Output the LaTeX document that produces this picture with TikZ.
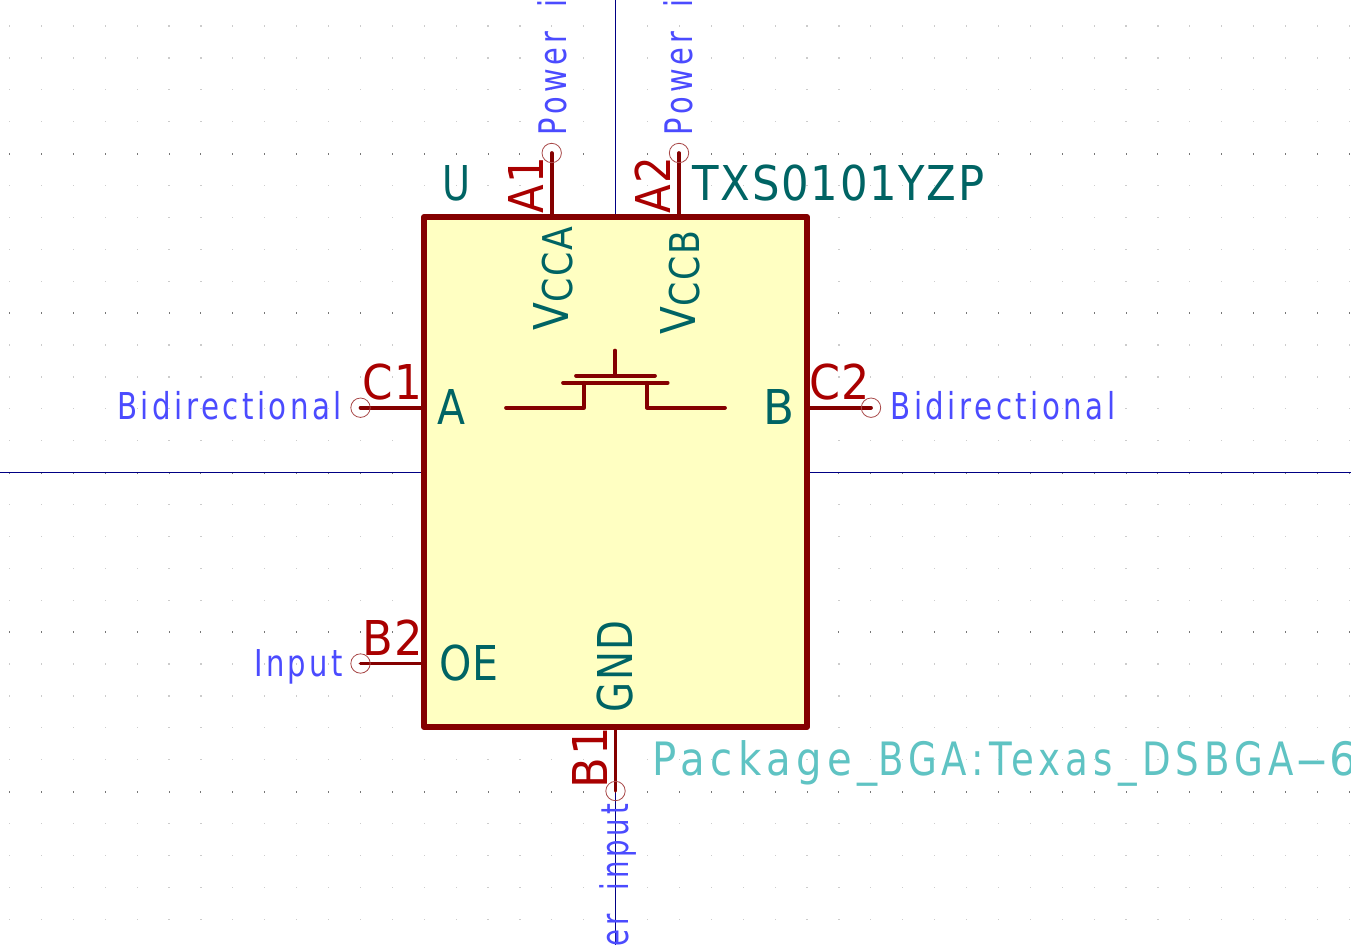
\documentclass[tikz,border=0pt]{standalone}
\usepackage{fontspec}
\usepackage{graphicx}
\setmainfont{DejaVu Sans}
\definecolor{body}{HTML}{840000}
\definecolor{bodyfill}{HTML}{FFFFC2}
\definecolor{pinnum}{HTML}{A90000}
\definecolor{pinname}{HTML}{006464}
\definecolor{foot}{HTML}{5FC3C3}
\definecolor{ptype}{HTML}{4B4BFF}
\definecolor{axis}{HTML}{000084}
\definecolor{ring}{HTML}{A84848}
\definecolor{dotl}{HTML}{CCCCCC}
\definecolor{dotd}{HTML}{777777}
\newcommand{\kt}[4]{\fontsize{#1}{#1}\selectfont\addfontfeature{LetterSpace=#3}\resizebox{#2pt}{\height}{#4}}
\newcommand{\subcaps}[3]{\fontsize{48}{48}\selectfont\addfontfeature{LetterSpace=4}\resizebox{#1pt}{\height}{\mbox{V\raisebox{-#2pt}{\fontsize{41}{41}\selectfont\addfontfeature{LetterSpace=4}#3}}}}
\tikzset{
  lbl/.style={inner sep=0pt,outer sep=0pt,anchor=base west},
  lblr/.style={inner sep=0pt,outer sep=0pt,anchor=base west,rotate=90},
  pinline/.style={draw=body,line width=3.7pt,line cap=round},
  symline/.style={draw=body,line width=3.7pt,line cap=round,line join=round},
  axisline/.style={draw=axis,line width=1pt},
  pinring/.style={draw=ring,line width=.8pt},
}
\begin{document}
\begin{tikzpicture}[x=1pt,y=-1pt]
\useasboundingbox (0,0) rectangle (1351,945);
\clip (0,0) rectangle (1351,945);
\fill[white] (0,0) rectangle (1351,945);
% grid
\foreach \j in {-14,...,14}{
  \pgfmathsetmacro{\yy}{472.6+31.9*\j}
  \pgfmathtruncatemacro{\mj}{mod(abs(\j),5)==0 ? 1 : 0}
  \foreach \i in {-19,...,23}{
    \pgfmathsetmacro{\xx}{615.6+31.9*\i}
    \ifnum\mj=1
      \fill[dotd] (\xx-.5,\yy-1) rectangle (\xx+.5,\yy+1);
    \else
      \fill[dotl] (\xx-.6,\yy-.6) rectangle (\xx+.6,\yy+.6);
    \fi
  }
}
% named points
\coordinate (top) at (615.5,0);
\coordinate (bot) at (615.5,945);
\coordinate (lft) at (0,472.5);
\coordinate (rgt) at (1351,472.5);
% symbol body
\node[draw=body,line width=6pt,fill=bodyfill,inner sep=0pt,outer sep=0pt,minimum width=383pt,minimum height=510pt,line join=round] (box) at (615.5,472) {};
% axes
\draw[axisline] (top) -- (615.5,214);
\draw[axisline] (bot) -- (615.5,730);
\draw[axisline] (lft) -- (421,472.5);
\draw[axisline] (rgt) -- (810,472.5);
% pins
\coordinate (pA1) at (551.7,153);
\coordinate (pA2) at (679,153);
\coordinate (pC1) at (360.5,407.7);
\coordinate (pC2) at (871,407.7);
\coordinate (pB2) at (360.5,663.5);
\coordinate (pB1) at (615.5,791);
\coordinate (eA1) at (551.7,217);
\coordinate (eA2) at (679,217);
\coordinate (eC1) at (424,407.7);
\coordinate (eC2) at (807,407.7);
\coordinate (eB2) at (424,663.5);
\coordinate (eB1) at (615.5,727);
\foreach \n in {A1,A2,C1,C2,B2,B1}{
  \draw[pinline] (p\n) -- (e\n);
  \draw[pinring] (p\n) circle[radius=9.7pt];
}
% transistor symbol
\coordinate (s1) at (506,407.7);
\coordinate (s2) at (584,407.7);
\coordinate (s3) at (584,382.7);
\coordinate (s4) at (647,382.7);
\coordinate (s5) at (647,407.7);
\coordinate (s6) at (725,407.7);
\coordinate (s7) at (563,382.7);
\coordinate (s8) at (667.7,382.7);
\coordinate (s9) at (576,375.7);
\coordinate (s10) at (655,375.7);
\coordinate (s11) at (615,375.7);
\coordinate (s12) at (615,350.5);
\draw[symline] (s1) -- (s2) -- (s3);
\draw[symline] (s4) -- (s5) -- (s6);
\draw[symline] (s7) -- (s8);
\draw[symline] (s9) -- (s10);
\draw[symline] (s11) -- (s12);
% reference, value, footprint
\node[lbl,text=pinname] (ref) at (442,200.5) {\kt{48}{28}{0}{U}};
\node[lbl,text=pinname] (val) at (692.5,200.5) {\kt{48}{292}{4}{TXS0101YZP}};
\node[lbl,text=foot] (fp) at (652,775) {\kt{46}{226}{14}{Package\_}\kt{46}{416}{14}{BGA:Texas\_DSBGA}\kt{46}{35}{0}{-}\kt{46}{28}{0}{6}};
% pin numbers
\node[lblr,text=pinnum] (nA1) at (543,213.5) {\kt{48}{57}{4}{A1}};
\node[lblr,text=pinnum] (nA2) at (670,213.5) {\kt{48}{57}{4}{A2}};
\node[lbl,text=pinnum] (nC1) at (362,399) {\kt{48}{60}{4}{C1}};
\node[lbl,text=pinnum] (nC2) at (809,399) {\kt{48}{61}{4}{C2}};
\node[lbl,text=pinnum] (nB2) at (362,655) {\kt{48}{61}{4}{B2}};
\node[lblr,text=pinnum] (nB1) at (607,788) {\kt{48}{61}{4}{B1}};
% pin names
\node[lblr,text=pinname] (vcca) at (568,330) {\subcaps{103}{4}{CCA}};
\node[lblr,text=pinname] (vccb) at (695.5,334) {\subcaps{103}{4}{CCB}};
\node[lbl,text=pinname] (nameA) at (437,424) {\kt{48}{28}{0}{A}};
\node[lbl,text=pinname] (nameB) at (763,424) {\kt{48}{31}{0}{B}};
\node[lbl,text=pinname] (nameOE) at (439,680) {\kt{48}{60}{4}{OE}};
\node[lblr,text=pinname] (nameGND) at (632,712.5) {\kt{48}{92}{4}{GND}};
% pin types
\node[lbl,text=ptype] (tC1) at (117,419.5) {\kt{37}{225}{12}{Bidirectional}};
\node[lbl,text=ptype] (tC2) at (890.5,419.5) {\kt{37}{225}{12}{Bidirectional}};
\node[lbl,text=ptype] (tB2) at (254,676) {\kt{37}{89}{12}{Input}};
\node[lblr,text=ptype] (tA1) at (566,135) {\kt{38}{136}{14}{Power\hspace{15pt} i}};
\node[lblr,text=ptype] (tA2) at (692,135) {\kt{38}{136}{14}{Power\hspace{15pt} i}};
\node[inner sep=0pt,outer sep=0pt,anchor=base east,rotate=90,text=ptype] (tB1) at (628,804) {\kt{38}{142}{14}{er\hspace{15pt} input}};
\end{tikzpicture}
\end{document}
